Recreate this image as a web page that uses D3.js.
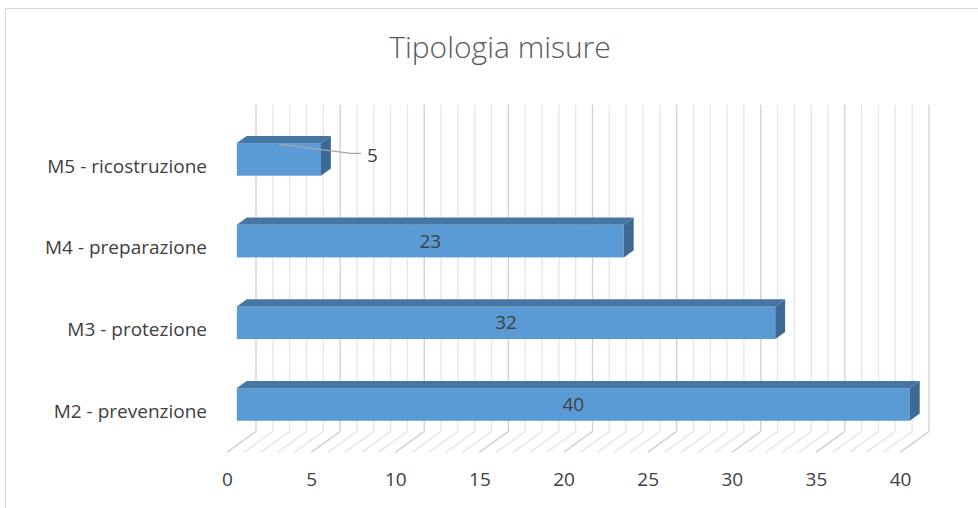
<!DOCTYPE html>
<html>
<head>
<meta charset="utf-8">
<script src="https://cdn.jsdelivr.net/npm/d3@7"></script>
<style>
  body { margin: 0; background: #fff; }
  svg text { font-family: "Open Sans", "DejaVu Sans", sans-serif; fill: #404040; }
</style>
</head>
<body>
<svg id="chart"></svg>
<script>
// chart data
const categories = ["M5 - ricostruzione", "M4 - preparazione", "M3 - protezione", "M2 - prevenzione"];
const values = [5, 23, 32, 40];
const xTicks = [0, 5, 10, 15, 20, 25, 30, 35, 40];
const gridValues = d3.range(0, 41);
const title = "Tipologia misure";

const W = 978, H = 508;
// 3D depth vector (front plane -> back wall)
const DX = 29, DY = -21;
const barT0 = 0.34, barT1 = 0.68;

const svg = d3.select("#chart").attr("width", W).attr("height", H);

// outer frame
svg.append("rect")
  .attr("x", 5.5).attr("y", 8.5)
  .attr("width", 1000).attr("height", 1000)
  .attr("fill", "none").attr("stroke", "#d9d9d9");

svg.append("text")
  .attr("x", 500).attr("y", 58)
  .attr("text-anchor", "middle")
  .attr("font-size", "30px")
  .style("font-weight", 300)
  .style("fill", "#595959")
  .text(title);

// scales on the front plane
const x = d3.scaleLinear().domain([0, 40]).range([227, 900]);
const y = d3.scaleBand().domain(categories).range([125.7, 452.4])
  .paddingInner(0.6).paddingOuter(0.3);
const yTop = 125.7, yBot = 452.4;

// back wall + floor gridlines
const grid = svg.append("g").attr("class", "grid");
grid.selectAll(".wall")
  .data(gridValues)
  .join("line")
    .attr("x1", d => x(d) + DX).attr("x2", d => x(d) + DX)
    .attr("y1", yTop + DY).attr("y2", yBot + DY)
    .attr("stroke", d => d % 5 === 0 ? "#d0d0d0" : "#e6e6e6")
    .attr("stroke-width", 1.3);
grid.selectAll(".floor")
  .data(gridValues)
  .join("line")
    .attr("x1", d => x(d) + DX).attr("x2", d => x(d))
    .attr("y1", yBot + DY).attr("y2", yBot)
    .attr("stroke", d => d % 5 === 0 ? "#d0d0d0" : "#e6e6e6")
    .attr("stroke-width", 1.3);

const data = categories.map((c, i) => ({ cat: c, value: values[i] }));
const pt = (v, yy, t) => [x(v) + t * DX, yy + t * DY];

const bars = svg.append("g").selectAll("g")
  .data(data)
  .join("g");

// front face
bars.append("rect")
  .attr("x", d => pt(0, 0, barT0)[0])
  .attr("y", d => pt(0, y(d.cat), barT0)[1])
  .attr("width", d => x(d.value) - x(0))
  .attr("height", y.bandwidth())
  .attr("fill", "#5b9bd5");

// top face
bars.append("path")
  .attr("d", d => {
    const yy = y(d.cat);
    return "M" + [pt(0, yy, barT0), pt(d.value, yy, barT0), pt(d.value, yy, barT1), pt(0, yy, barT1)]
      .map(p => p.join(",")).join("L") + "Z";
  })
  .attr("fill", "#4677a4");

// right face
bars.append("path")
  .attr("d", d => {
    const yy = y(d.cat), yb = yy + y.bandwidth();
    return "M" + [pt(d.value, yy, barT0), pt(d.value, yy, barT1), pt(d.value, yb, barT1), pt(d.value, yb, barT0)]
      .map(p => p.join(",")).join("L") + "Z";
  })
  .attr("fill", "#3c6a94");

// data labels (short bars get an outside label with a leader line)
bars.each(function(d) {
  const g = d3.select(this);
  const [fx0, fy] = pt(0, y(d.cat), barT0);
  const fx1 = pt(d.value, y(d.cat), barT0)[0];
  const cy = fy + y.bandwidth() / 2;
  if (fx1 - fx0 > 120) {
    g.append("text")
      .attr("x", (fx0 + fx1) / 2).attr("y", cy)
      .attr("dy", "0.35em")
      .attr("text-anchor", "middle")
      .attr("font-size", "19px")
      .text(d.value);
  } else {
    const lx = fx1 + 40, ly = cy - 6;
    g.append("path")
      .attr("d", `M${(fx0 + fx1) / 2},${fy + 1}L${fx1 + 30},${ly}L${lx},${ly}`)
      .attr("fill", "none")
      .attr("stroke", "#a6a6a6")
      .attr("stroke-width", 1.3);
    g.append("text")
      .attr("x", lx + 6).attr("y", ly + 2)
      .attr("dy", "0.35em")
      .attr("font-size", "19px")
      .text(d.value);
  }
});

// axes
const xAxis = d3.axisBottom(x).tickValues(xTicks).tickSize(0).tickPadding(20);
const xAxisG = svg.append("g").attr("transform", `translate(0,${yBot})`).call(xAxis);
xAxisG.select(".domain").remove();
xAxisG.selectAll("text").attr("font-size", "19px").style("font-family", null);

const yAxis = d3.axisLeft(y).tickSize(0).tickPadding(0);
const yAxisG = svg.append("g").attr("transform", "translate(207,0)").call(yAxis);
yAxisG.select(".domain").remove();
yAxisG.selectAll("text").attr("font-size", "19px").style("font-family", null);
</script>
</body>
</html>
